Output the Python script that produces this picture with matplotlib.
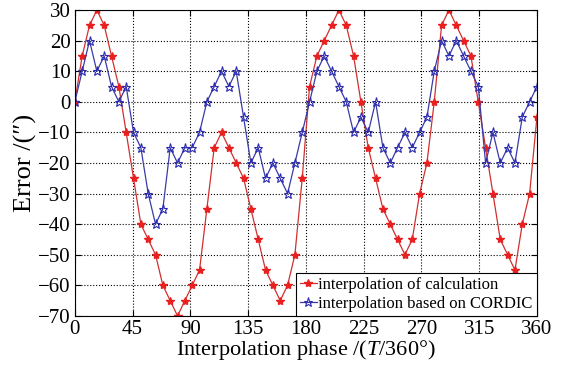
import numpy as np
import matplotlib
matplotlib.use('Agg')
import matplotlib.pyplot as plt

# 数据
phase = np.linspace(0, 360, 64)
err_calc = [0, 15, 25, 30, 25, 15, 5, -10, -25, -40,
            -45, -50, -60, -65, -70, -65, -60, -55, -35, -15,
            -10, -15, -20, -25, -35, -45, -55, -60, -65, -60,
            -50, -25, 5, 15, 20, 25, 30, 25, 15, 0,
            -15, -25, -35, -40, -45, -50, -45, -30, -20, 0,
            25, 30, 25, 20, 15, 0, -15, -30, -45, -50,
            -55, -40, -30, -5]
err_cordic = [0, 10, 20, 10, 15, 5, 0, 5, -10, -15,
              -30, -40, -35, -15, -20, -15, -15, -10, 0, 5,
              10, 5, 10, -5, -20, -15, -25, -20, -25, -30,
              -20, -10, 0, 10, 15, 10, 5, 0, -10, -5,
              -10, 0, -15, -20, -15, -10, -15, -10, -5, 10,
              20, 15, 20, 15, 10, 5, -20, -10, -20, -15,
              -20, -5, 0, 5]
xticks = [0, 45, 90, 135, 180, 225, 270, 315, 360]
yticks = [-70, -60, -50, -40, -30, -20, -10, 0, 10, 20, 30]

plt.rcParams['font.family'] = ['Liberation Serif', 'DejaVu Serif']
plt.rcParams['mathtext.fontset'] = 'custom'
plt.rcParams['mathtext.it'] = 'Liberation Serif:italic'
plt.rcParams['mathtext.rm'] = 'Liberation Serif'

fig = plt.figure(figsize=(5.67, 3.73), dpi=100)
ax = fig.add_axes([0.132, 0.153, 0.815, 0.820])

ax.plot(phase, err_calc, color='#d03030', lw=0.9, marker='*', ms=6,
        mfc='#e82020', mec='#e82020', label='interpolation of calculation')
ax.plot(phase, err_cordic, color='#3a3aa8', lw=0.9, marker='*', ms=6.5,
        mfc='none', mec='#2a2ab0', mew=0.8, label='interpolation based on CORDIC')

ax.set_xlim(0, 360)
ax.set_ylim(-70, 30)
ax.set_xticks(xticks)
ax.set_yticks(yticks)
ax.grid(True, color='black', linestyle=':', linewidth=0.8)
ax.tick_params(direction='in', top=True, right=True, labelsize=15, length=4, pad=3)
for s in ax.spines.values():
    s.set_linewidth(0.8)

ax.set_xlabel(r'Interpolation phase /($T$/360°)', fontsize=16, labelpad=-1)
ax.set_ylabel('Error /(″)', fontsize=19, labelpad=1)

leg = ax.legend(loc='lower right', fontsize=12, borderaxespad=0, fancybox=False,
                edgecolor='black', framealpha=1, handlelength=1.0, handletextpad=0.1,
                borderpad=0.25, labelspacing=0.15)
leg.get_frame().set_linewidth(0.8)

fig.savefig('out.png', dpi=100)
